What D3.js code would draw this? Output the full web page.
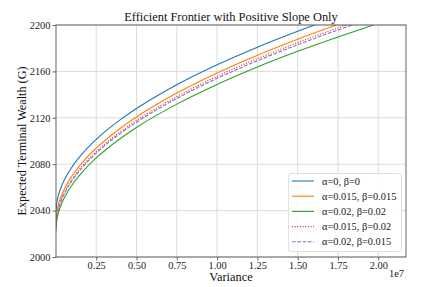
<!DOCTYPE html>
<html>
<head>
<meta charset="utf-8">
<script src="https://cdn.jsdelivr.net/npm/d3@7"></script>
<style>
  html, body { margin: 0; padding: 0; background: #fff; }
  svg { display: block; font-family: "Liberation Serif", "DejaVu Serif", serif; }
</style>
</head>
<body>
<div id="chart"></div>
<script>
// ---- Data (variance in units of 1e7, wealth in G) ----
const varianceGrid = [0, 0.002, 0.01, 0.03, 0.06, 0.1, 0.18, 0.25, 0.4, 0.5, 0.75, 1.0, 1.25, 1.5, 1.75];
const seriesLabels = ["α=0, β=0", "α=0.015, β=0.015", "α=0.02, β=0.02", "α=0.015, β=0.02", "α=0.02, β=0.015"];
const wealthA0B0 = [2037, 2042.8, 2049.9, 2059.3, 2068.5, 2077.7, 2091.6, 2101.4, 2118.4, 2128.0, 2148.5, 2165.7, 2180.9, 2194.6];
const wealthA015B015 = [2029, 2034.8, 2042.0, 2051.5, 2060.8, 2070.0, 2084.0, 2093.8, 2111.0, 2120.7, 2141.3, 2158.7, 2174.0, 2187.8];
const wealthA02B02 = [2022, 2027.7, 2034.7, 2044.0, 2053.1, 2062.1, 2075.8, 2085.4, 2102.2, 2111.7, 2131.8, 2148.8, 2163.8, 2177.3, 2189.7];
const wealthA015B02 = [2026, 2031.8, 2039.0, 2048.5, 2057.8, 2067.0, 2081.0, 2090.8, 2108.0, 2117.7, 2138.3, 2155.7, 2171.0, 2184.8, 2197.5];
const wealthA02B015 = [2025, 2030.8, 2037.9, 2047.3, 2056.6, 2065.8, 2079.7, 2089.5, 2106.6, 2116.2, 2136.7, 2154.0, 2169.2, 2183.0, 2195.7];
// variance where each curve reaches the top of the plot (2200)
const endVariance = [1.604, 1.7395, 1.970, 1.801, 1.840];
const endWealth = 2200;
const xTicks = [0.25, 0.50, 0.75, 1.00, 1.25, 1.50, 1.75, 2.00];
const yTicks = [2000, 2040, 2080, 2120, 2160, 2200];

const colors = ["#1f77b4", "#ff7f0e", "#2ca02c", "#d62728", "#9467bd"];
const dashes = [null, null, null, "1,1.65", "3.7,1.6"];
const wealthSeries = [wealthA0B0, wealthA015B015, wealthA02B02, wealthA015B02, wealthA02B015];

const W = 437, H = 287;
const m = { left: 56, right: 406, top: 25, bottom: 257 };

const svg = d3.select("#chart").append("svg").attr("width", W).attr("height", H);

const x = d3.scaleLinear().domain([0.0005, 2.172]).range([m.left, m.right]);
const y = d3.scaleLinear().domain([2000, 2200]).range([m.bottom, m.top]);

// grid
const grid = svg.append("g");
grid.selectAll("line.vx").data(xTicks).join("line")
  .attr("x1", d => x(d)).attr("x2", d => x(d))
  .attr("y1", m.top).attr("y2", m.bottom)
  .attr("stroke", "#dcdcdc").attr("stroke-width", 1);
grid.selectAll("line.hy").data(yTicks).join("line")
  .attr("y1", d => y(d)).attr("y2", d => y(d))
  .attr("x1", m.left).attr("x2", m.right)
  .attr("stroke", "#dcdcdc").attr("stroke-width", 1);

// clip
svg.append("clipPath").attr("id", "clip").append("rect")
  .attr("x", m.left).attr("y", m.top).attr("width", m.right - m.left).attr("height", m.bottom - m.top);

const line = d3.line().x(d => x(d[0])).y(d => y(d[1])).curve(d3.curveMonotoneX);
const lines = svg.append("g").attr("clip-path", "url(#clip)");
wealthSeries.forEach((w, i) => {
  const pts = w.map((v, j) => [varianceGrid[j], v]);
  pts.push([endVariance[i], endWealth]);
  lines.append("path").datum(pts)
    .attr("d", line)
    .attr("fill", "none")
    .attr("stroke", colors[i])
    .attr("stroke-width", 1.1)
    .attr("stroke-dasharray", dashes[i]);
});

// axes
const xAxis = d3.axisBottom(x).tickValues(xTicks).tickFormat(d3.format(".2f")).tickSize(3.5).tickPadding(1);
const yAxis = d3.axisLeft(y).tickValues(yTicks).tickFormat(d3.format("d")).tickSize(3.5).tickPadding(2);
const gx = svg.append("g").attr("transform", `translate(0,${m.bottom})`).call(xAxis);
const gy = svg.append("g").attr("transform", `translate(${m.left},0)`).call(yAxis);
[gx, gy].forEach(g => {
  g.select(".domain").remove();
  g.selectAll(".tick line").attr("stroke", "#444").attr("stroke-width", 0.8);
  g.selectAll(".tick text").attr("fill", "#222").style("font-size", "10.4px").style("font-family", "Liberation Serif");
});

// spines
svg.append("rect").attr("x", m.left).attr("y", m.top)
  .attr("width", m.right - m.left).attr("height", m.bottom - m.top)
  .attr("fill", "none").attr("stroke", "#555").attr("stroke-width", 0.9);

// labels
svg.append("text").attr("x", (m.left + m.right) / 2).attr("y", 21)
  .attr("text-anchor", "middle").style("font-size", "12.4px").attr("fill", "#111")
  .text("Efficient Frontier with Positive Slope Only");
svg.append("text").attr("x", (m.left + m.right) / 2).attr("y", 280.5)
  .attr("text-anchor", "middle").style("font-size", "12.4px").attr("fill", "#111")
  .text("Variance");
svg.append("text").attr("transform", `translate(26,${(m.top + m.bottom) / 2}) rotate(-90)`)
  .attr("text-anchor", "middle").style("font-size", "12.2px").attr("fill", "#111")
  .text("Expected Terminal Wealth (G)");
svg.append("text").attr("x", m.right - 2).attr("y", 277)
  .attr("text-anchor", "end").style("font-size", "10.4px").attr("fill", "#222")
  .text("1e7");

// legend
const lg = svg.append("g");
lg.append("rect").attr("x", 288.5).attr("y", 173.5).attr("width", 113).attr("height", 78)
  .attr("rx", 2.5).attr("fill", "#fff").attr("fill-opacity", 0.85)
  .attr("stroke", "#d8d8d8").attr("stroke-width", 0.8);
seriesLabels.forEach((lab, i) => {
  const cy = 181 + i * 15.2;
  lg.append("line").attr("x1", 292).attr("x2", 314).attr("y1", cy).attr("y2", cy)
    .attr("stroke", colors[i]).attr("stroke-width", 1.1).attr("stroke-dasharray", dashes[i]);
  lg.append("text").attr("x", 322).attr("y", cy + 3.6)
    .style("font-size", "10.4px").attr("fill", "#222").text(lab);
});
</script>
</body>
</html>
